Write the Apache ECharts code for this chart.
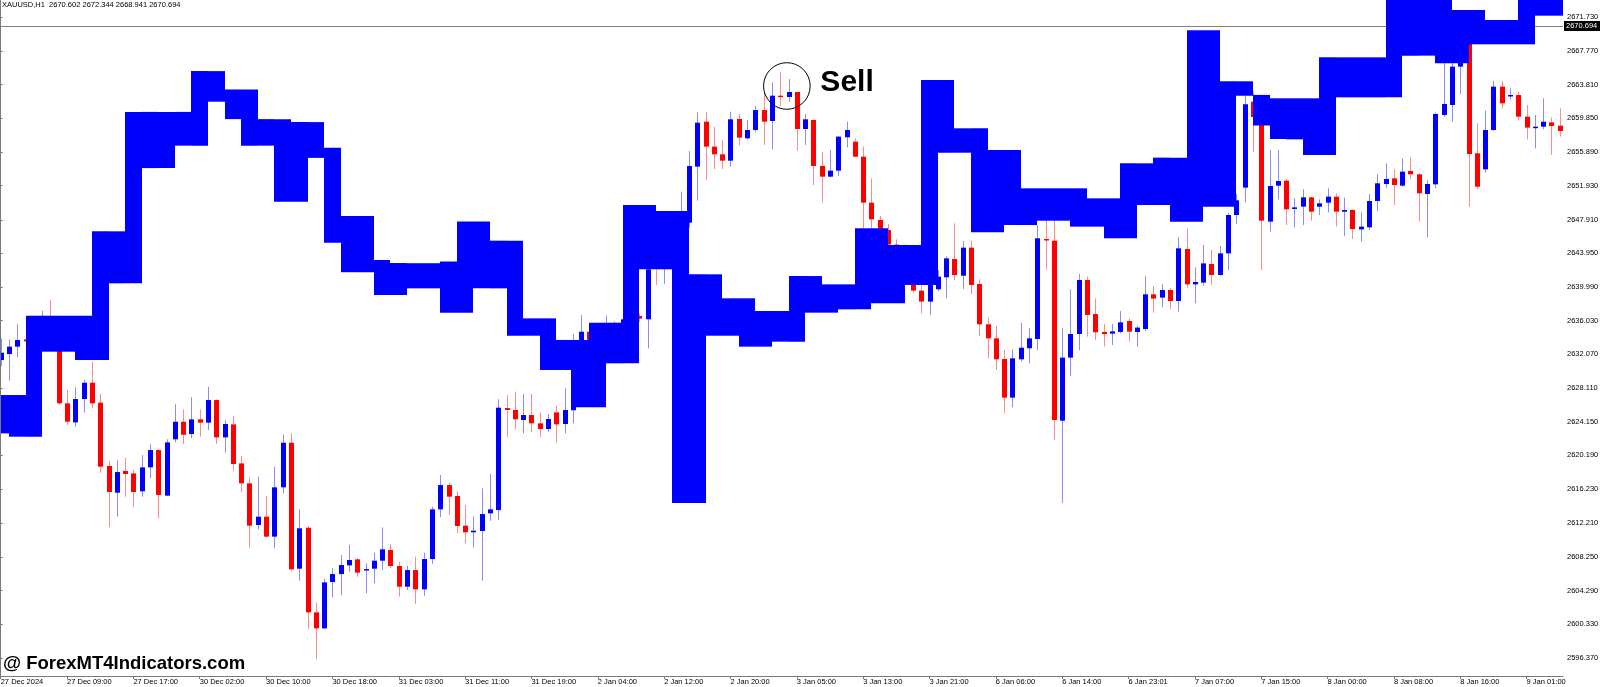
<!DOCTYPE html>
<html><head><meta charset="utf-8">
<script src="https://cdn.jsdelivr.net/npm/echarts@6/dist/echarts.min.js"></script>
<style>html,body{margin:0;padding:0;background:#fff;overflow:hidden}#c{width:1600px;height:687px}</style>
</head><body><div id="c"></div>
<script>
// ---- data ----
const headerText = 'XAUUSD,H1  2670.602 2672.344 2668.941 2670.694';
const lastPrice = 2670.694;
const watermark = '@ ForexMT4Indicators.com';
const sellLabel = 'Sell';
const sellSignal = { bar: 94.8, price: 2663.65 };

const xTickLabels = ['27 Dec 2024','27 Dec 09:00','27 Dec 17:00','30 Dec 02:00','30 Dec 10:00','30 Dec 18:00','31 Dec 03:00','31 Dec 11:00','31 Dec 19:00','2 Jan 04:00','2 Jan 12:00','2 Jan 20:00','3 Jan 05:00','3 Jan 13:00','3 Jan 21:00','6 Jan 06:00','6 Jan 14:00','6 Jan 23:01','7 Jan 07:00','7 Jan 15:00','8 Jan 00:00','8 Jan 08:00','8 Jan 16:00','9 Jan 01:00'];
const barsPerXTick = 8;
const yTickValues = [2671.730,2667.770,2663.810,2659.850,2655.890,2651.930,2647.910,2643.950,2639.990,2636.030,2632.070,2628.110,2624.150,2620.190,2616.230,2612.210,2608.250,2604.290,2600.330,2596.370];

const opens = [
2631.41,2632.11,2632.98,2633.84,2633.6,2635.0,2636.3,2635.0,2626.31,2624.07,
2626.82,2628.74,2626.39,2618.94,2615.80,2618.35,2618.07,2615.96,2618.78,2620.82,
2615.45,2622.08,2624.15,2622.70,2624.43,2624.04,2626.70,2622.31,2623.84,2619.25,
2616.90,2612.00,2612.98,2610.63,2616.43,2621.68,2606.86,2611.68,2601.72,2599.84,
2605.29,2606.23,2607.25,2607.96,2606.67,2606.86,2607.80,2609.06,2607.17,2604.74,
2606.70,2604.43,2608.00,2613.84,2616.70,2615.41,2611.92,2611.14,2611.29,2613.37,
2613.76,2625.76,2625.53,2624.35,2624.94,2623.96,2623.29,2625.25,2623.88,2625.5,
2630.5,2634.74,2633.2,2634.6,2635.6,2634.9,2636.2,2636.59,2636.20,2643.5,
2642.4,2643.6,2647.2,2647.57,2654.16,2659.45,2656.51,2655.61,2654.86,2659.77,
2657.49,2658.47,2660.82,2659.53,2662.51,2662.35,2662.94,2658.59,2659.65,2654.24,
2652.98,2653.69,2657.61,2657.10,2655.33,2649.92,2647.88,2646.7,2645.0,2643.5,
2644.2,2639.57,2638.28,2639.73,2641.14,2643.29,2641.33,2644.63,2640.35,2635.61,
2633.96,2631.53,2626.98,2631.49,2632.79,2633.88,2645.65,2645.45,2624.27,2631.69,
2634.47,2640.82,2636.82,2634.71,2634.51,2634.71,2636.00,2634.71,2635.06,2639.14,
2638.75,2639.65,2638.35,2644.47,2640.31,2640.51,2642.71,2641.41,2643.96,2648.47,
2651.69,2661.8,2662.1,2647.69,2651.92,2652.51,2649.18,2649.45,2650.55,2649.45,
2649.92,2650.63,2648.86,2649.06,2646.78,2647.02,2650.12,2652.12,2652.78,2651.92,
2653.65,2653.26,2650.94,2652.08,2660.24,2661.41,2665.92,2669.5,2655.73,2653.84,
2658.47,2663.57,2662.47,2662.59,2660.04,2658.71,2658.86,2659.37,2658.98];
const closes = [
2632.27,2632.98,2633.76,2633.60,2635.0,2636.3,2635.2,2626.31,2624.15,2626.82,
2628.74,2626.31,2618.86,2615.88,2618.23,2618.00,2615.88,2618.78,2620.82,2615.53,
2621.72,2624.15,2622.62,2624.43,2624.04,2626.70,2622.31,2623.88,2619.17,2616.90,
2611.92,2612.98,2610.63,2616.43,2621.68,2606.78,2611.61,2601.72,2599.84,2605.25,
2606.23,2607.29,2607.88,2606.39,2606.82,2607.80,2609.14,2607.17,2604.74,2606.70,
2604.43,2608.00,2613.84,2616.70,2615.33,2611.88,2611.14,2611.33,2613.29,2613.84,
2625.80,2625.53,2624.43,2624.94,2623.96,2623.29,2624.47,2623.84,2625.53,2630.5,
2634.74,2633.2,2634.6,2635.6,2634.9,2636.2,2636.59,2636.28,2642.08,2642.4,
2643.6,2647.2,2647.6,2654.24,2659.33,2656.51,2655.61,2654.86,2659.73,2657.57,
2658.47,2660.82,2659.45,2662.51,2662.35,2662.94,2658.59,2659.73,2654.24,2652.98,
2653.69,2657.69,2658.47,2655.33,2649.92,2647.96,2646.71,2645.0,2643.5,2644.2,
2639.57,2638.28,2640.6,2641.22,2643.37,2641.41,2644.63,2640.24,2635.61,2633.96,
2631.49,2626.98,2631.61,2632.86,2633.96,2645.73,2645.49,2624.35,2631.69,2634.47,
2640.82,2636.71,2634.67,2634.47,2634.78,2635.84,2634.75,2635.22,2639.14,2638.63,
2639.65,2638.35,2644.55,2640.31,2640.59,2642.78,2641.41,2643.96,2648.47,2650.2,
2661.5,2660.0,2647.80,2651.88,2652.47,2649.14,2649.37,2650.55,2648.86,2649.84,
2650.63,2648.86,2649.06,2646.82,2647.10,2650.12,2652.20,2652.71,2652.00,2653.57,
2653.26,2651.02,2652.12,2660.35,2661.53,2665.92,2666.4,2655.65,2651.80,2658.47,
2663.57,2661.61,2662.59,2660.04,2658.75,2658.86,2659.45,2658.94,2658.35];
const lows = [
2630.70,2628.98,2631.72,2633.45,2633.0,2634.6,2634.8,2626.12,2623.76,2623.57,
2625.22,2625.72,2618.15,2611.72,2612.98,2615.33,2614.16,2615.33,2617.49,2612.78,
2615.41,2621.72,2621.53,2622.19,2622.39,2623.18,2621.53,2620.51,2618.39,2615.88,
2609.33,2611.49,2610.55,2609.25,2615.72,2606.59,2605.45,2599.72,2596.20,2599.80,
2603.49,2603.76,2606.51,2605.92,2603.96,2605.14,2606.70,2606.90,2603.57,2604.35,
2602.70,2603.65,2607.41,2612.90,2613.17,2611.02,2609.84,2609.37,2605.45,2612.51,
2612.59,2622.31,2623.26,2622.78,2622.98,2622.31,2622.98,2621.68,2622.78,2623.96,
2630.0,2632.6,2632.8,2634.0,2634.2,2634.5,2635.7,2635.9,2632.78,2640.24,
2640.35,2643.0,2646.5,2647.0,2650.16,2652.59,2653.88,2653.88,2654.16,2656.63,
2657.37,2658.2,2656.71,2656.20,2661.29,2661.80,2656.04,2656.71,2652.00,2649.92,
2652.90,2653.06,2656.43,2655.26,2646.90,2646.90,2646.0,2644.5,2642.8,2642.6,
2639.3,2636.90,2636.71,2639.5,2638.67,2640.82,2639.76,2639.18,2634.24,2631.61,
2630.24,2625.14,2625.84,2631.22,2631.02,2632.59,2642.08,2622.0,2614.6,2629.53,
2632.59,2634.16,2633.76,2632.98,2633.18,2634.55,2633.57,2632.98,2634.82,2636.98,
2637.61,2637.37,2637.10,2639.84,2638.08,2640.12,2640.24,2641.33,2642.00,2647.41,
2649.96,2655.92,2642.00,2646.51,2650.31,2647.29,2647.02,2647.29,2647.80,2648.47,
2648.78,2647.10,2646.00,2645.65,2645.33,2646.71,2648.94,2651.69,2649.65,2651.80,
2652.71,2647.69,2645.84,2651.61,2660.04,2659.45,2662.71,2649.45,2651.5,2653.45,
2658.39,2661.02,2662.08,2659.57,2657.37,2656.31,2658.55,2655.53,2657.69];
const highs = [
2633.96,2633.84,2635.64,2634.15,2635.5,2637.2,2638.5,2635.3,2627.88,2628.20,
2629.06,2631.21,2627.41,2619.53,2619.65,2619.92,2618.47,2620.23,2621.53,2620.90,
2622.08,2626.23,2625.60,2627.02,2625.60,2628.27,2626.78,2624.35,2624.82,2620.12,
2617.61,2617.69,2615.41,2618.86,2622.66,2622.78,2613.84,2611.88,2602.90,2605.72,
2606.90,2608.47,2609.65,2608.16,2607.49,2608.74,2611.72,2609.76,2607.68,2607.21,
2608.27,2608.74,2614.16,2617.88,2616.98,2615.96,2614.35,2612.98,2616.31,2618.00,
2626.78,2627.29,2627.69,2627.41,2627.41,2625.22,2625.06,2626.00,2628.08,2634.47,
2636.71,2635.2,2635.3,2636.63,2636.0,2636.5,2637.0,2636.9,2642.6,2644.2,
2644.5,2648.0,2651.22,2656.00,2660.55,2660.55,2658.86,2657.29,2660.63,2660.35,
2659.65,2661.29,2662.98,2664.08,2665.26,2664.47,2662.98,2660.35,2659.73,2655.92,
2656.12,2657.77,2659.45,2657.49,2656.51,2652.78,2648.35,2647.41,2645.6,2645.0,
2644.6,2640.2,2641.5,2642.0,2643.57,2647.49,2645.41,2645.45,2640.90,2636.39,
2635.41,2632.59,2632.67,2635.80,2635.14,2647.29,2647.88,2647.88,2635.14,2639.73,
2641.53,2641.22,2638.67,2635.65,2635.65,2637.18,2636.31,2635.41,2641.29,2640.12,
2640.31,2639.84,2645.84,2646.90,2642.31,2644.94,2644.35,2644.82,2648.75,2651.0,
2662.5,2663.0,2662.5,2656.12,2656.12,2652.67,2650.43,2651.49,2650.63,2650.31,
2651.61,2651.02,2650.51,2649.14,2648.78,2650.94,2653.29,2654.55,2653.84,2655.14,
2655.26,2653.37,2652.59,2660.51,2666.39,2666.39,2666.8,2670.5,2659.26,2660.75,
2664.24,2664.24,2663.37,2662.98,2661.41,2660.24,2662.20,2659.96,2661.02];

// band blocks: block k spans from bar (2k-1) to bar (2k+1)
const bandTop = [
2627.29,2627.29,2636.62,2636.62,2636.62,2636.62,2646.55,2646.55,2660.60,2660.60,
2660.60,2660.60,2665.40,2665.40,2663.24,2663.24,2659.75,2659.75,2659.40,2659.40,
2656.39,2648.35,2648.35,2643.18,2642.82,2642.80,2642.80,2643.00,2647.70,2647.70,
2645.45,2645.45,2636.31,2636.31,2633.77,2633.77,2635.80,2635.80,2649.65,2649.65,
2648.94,2648.94,2641.49,2641.49,2638.67,2638.67,2637.18,2637.18,2641.29,2641.29,
2640.31,2640.31,2646.90,2646.90,2644.94,2644.94,2664.35,2664.35,2658.67,2658.67,
2656.12,2656.12,2651.61,2651.61,2651.61,2651.61,2650.43,2650.43,2654.55,2654.55,
2655.22,2655.22,2670.20,2670.20,2664.20,2664.20,2662.60,2662.20,2662.20,2662.20,
2667.02,2667.02,2667.02,2667.02,2675.00,2675.00,2675.00,2675.00,2672.59,2672.59,
2671.41,2671.41,2675.00,2675.00,2675.00];
const bandBottom = [
2622.78,2622.39,2622.39,2632.39,2632.39,2631.41,2631.41,2640.43,2640.43,2653.99,
2653.99,2656.63,2656.63,2661.80,2659.75,2656.63,2656.63,2650.04,2650.04,2655.19,
2645.22,2641.74,2641.74,2639.06,2639.06,2639.84,2639.84,2636.98,2636.98,2639.84,
2639.84,2634.27,2634.27,2630.24,2630.24,2625.84,2625.84,2631.02,2631.02,2642.08,
2642.08,2614.59,2614.59,2634.27,2634.27,2632.98,2632.98,2633.57,2633.57,2636.98,
2636.98,2637.37,2637.37,2638.08,2638.08,2640.24,2640.24,2655.80,2655.80,2646.43,
2646.43,2647.29,2647.29,2647.80,2647.80,2647.10,2647.10,2645.73,2645.73,2649.65,
2649.65,2647.69,2647.69,2649.45,2649.45,2662.50,2659.00,2657.41,2657.37,2655.53,
2655.53,2662.31,2662.31,2662.31,2662.31,2667.22,2667.22,2666.31,2666.31,2668.55,
2668.55,2668.55,2668.55,2671.92,2671.92];

// ---- chart ----
const FONT = 'Liberation Sans';
const candleData = opens.map((o, i) => [i, o, closes[i], lows[i], highs[i]]);
const bandData = bandTop.map((t, k) => [2 * k - 1, bandBottom[k], t]);
const xTickValues = xTickLabels.map((_, j) => j * barsPerXTick);

function renderCandle(params, api) {
  const i = api.value(0), o = api.value(1), c = api.value(2), l = api.value(3), h = api.value(4);
  const pO = api.coord([i, o]), pC = api.coord([i, c]), pL = api.coord([i, l]), pH = api.coord([i, h]);
  const up = c >= o;
  const body = up ? '#0000ff' : '#ff0000';
  const wick = up ? '#8c8cff' : '#ff8c8c';
  const cx = Math.round(pO[0]);
  const top = Math.min(pO[1], pC[1]);
  const hgt = Math.max(Math.abs(pO[1] - pC[1]), 1.5);
  return {
    type: 'group',
    children: [
      { type: 'line', shape: { x1: cx + 0.5, y1: pH[1], x2: cx + 0.5, y2: pL[1] }, style: { stroke: wick, lineWidth: 1 } },
      { type: 'rect', shape: { x: cx - 2, y: top, width: 5, height: hgt }, style: { fill: body } }
    ]
  };
}

function renderBand(params, api) {
  const s = api.value(0), lo = api.value(1), hi = api.value(2);
  const p1 = api.coord([s, hi]), p2 = api.coord([s + 2, lo]);
  const x1 = Math.round(p1[0]), x2 = Math.round(p2[0]);
  const cs = params.coordSys;
  const r = echarts.graphic.clipRectByRect(
    { x: x1, y: p1[1], width: x2 - x1, height: p2[1] - p1[1] },
    { x: cs.x, y: cs.y, width: cs.width, height: cs.height });
  return r && { type: 'rect', shape: r, style: { fill: '#0000ff' } };
}

const chart = echarts.init(document.getElementById('c'));
chart.setOption({
  animation: false,
  backgroundColor: '#ffffff',
  grid: { left: 0, right: 37, top: 0, bottom: 11, containLabel: false, outerBoundsMode: 'none' },
  xAxis: {
    type: 'value', min: -0.0844, max: 188.39,
    axisLine: { show: true, lineStyle: { color: '#7a7a7a', width: 1 } },
    axisTick: { show: true, length: 3, customValues: xTickValues, lineStyle: { color: '#7a7a7a' } },
    axisLabel: {
      show: true, customValues: xTickValues, margin: 2, align: 'left',
      color: '#000', fontFamily: FONT, fontSize: 7.5,
      formatter: v => xTickLabels[Math.round(v / barsPerXTick)] || ''
    },
    splitLine: { show: false }
  },
  yAxis: {
    type: 'value', position: 'right', min: 2594.235, max: 2673.765,
    axisLine: { show: true, lineStyle: { color: '#7a7a7a', width: 1 } },
    axisTick: { show: true, length: 2, customValues: yTickValues, lineStyle: { color: '#7a7a7a' } },
    axisLabel: {
      show: true, customValues: yTickValues, margin: 4,
      color: '#000', fontFamily: FONT, fontSize: 7.5,
      formatter: v => Number(v).toFixed(3)
    },
    splitLine: { show: false }
  },
  series: [
    {
      type: 'custom', name: 'candles', z: 2,
      renderItem: renderCandle, data: candleData,
      encode: { x: 0, y: [1, 2, 3, 4] },
      markLine: {
        silent: true, symbol: ['none', 'none'], animation: false,
        label: { show: false },
        lineStyle: { color: '#808080', width: 1, type: 'solid' },
        data: [{ yAxis: lastPrice }]
      }
    },
    {
      type: 'custom', name: 'band', z: 5,
      renderItem: renderBand, data: bandData,
      encode: { x: 0, y: [1, 2] }
    }
  ]
});

const sc = chart.convertToPixel({ gridIndex: 0 }, [sellSignal.bar, sellSignal.price]);
const lp = chart.convertToPixel({ gridIndex: 0 }, [0, lastPrice]);
chart.setOption({
  graphic: [
    { type: 'line', z: 10, shape: { x1: 0.5, y1: 0, x2: 0.5, y2: 676 }, style: { stroke: '#7a7a7a', lineWidth: 1 } },
    { type: 'text', z: 10, left: 2, top: 1, style: { text: headerText, fill: '#000', font: '7.5px "Liberation Sans"' } },
    { type: 'rect', z: 10, shape: { x: 1564, y: lp[1] - 5, width: 36, height: 10 }, style: { fill: '#000' } },
    { type: 'text', z: 11, x: 1566, y: lp[1], style: { text: lastPrice.toFixed(3), fill: '#fff', font: '7.5px "Liberation Sans"', verticalAlign: 'middle' } },
    { type: 'circle', z: 10, shape: { cx: sc[0], cy: sc[1], r: 23.3 }, style: { fill: 'none', stroke: '#000', lineWidth: 1 } },
    { type: 'text', z: 10, x: sc[0] + 33.5, y: sc[1] - 3.5, style: { text: sellLabel, fill: '#000', font: 'bold 30px "Liberation Sans"', verticalAlign: 'middle' } },
    { type: 'text', z: 10, x: 3, y: 664, style: { text: watermark, fill: '#000', font: 'bold 18.5px "Liberation Sans"', verticalAlign: 'middle' } }
  ]
});
</script>
</body></html>
